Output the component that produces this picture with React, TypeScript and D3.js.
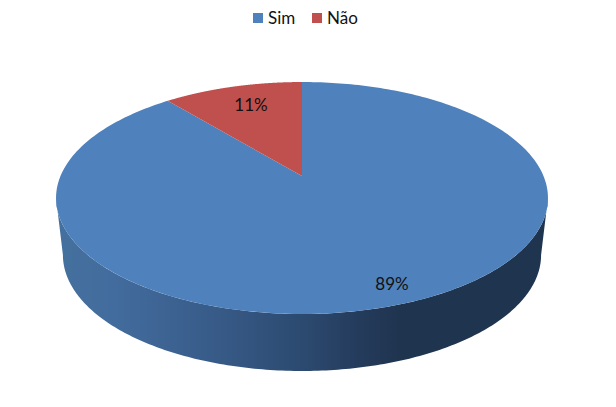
import React from "react";
import * as d3 from "d3";

const categories = ["Sim", "Não"];
const values = [89, 11];
const labels = ["89%", "11%"];
const colors = ["#4f81bd", "#c0504d"];

const W = 616, H = 407;
const cx = 302, apexY = 176;
const k = 0.1897, a = 241.5, b = 111.8;
const depth = 57;
const bottomScale = 0.972;

// circle angle (clockwise from top) -> perspective-projected point
function project(t: number, sx = 1, dy = 0): [number, number] {
  const u = Math.sin(t), v = Math.cos(t);
  const d = 1 + k * v;
  return [cx + (sx * a * u) / d, apexY + dy - (b * v) / d];
}

const line = d3.line<[number, number]>().curve(d3.curveLinear);
const sample = (t0: number, t1: number, n: number) =>
  d3.range(n + 1).map((i) => t0 + ((t1 - t0) * i) / n);

const tEdge = Math.acos(-k); // silhouette angle (widest point of the ellipse)

export default function App() {
  const arcs = d3.pie<number>().sort(null).startAngle(0).endAngle(2 * Math.PI)(values);
  const topFront = sample(tEdge, 2 * Math.PI - tEdge, 200).map((t) => project(t));
  const botFront = sample(2 * Math.PI - tEdge, tEdge, 200).map((t) => project(t, bottomScale, depth));
  const side = line([...topFront, ...botFront]) + "Z";

  return (
    <div style={{ position: "absolute", left: 0, top: 0 }}>
      <svg width={W} height={H} style={{ display: "block", background: "#fff" }}>
        <defs>
          <linearGradient id="sideGrad" gradientUnits="userSpaceOnUse" x1={56} x2={548} y1={0} y2={0}>
            <stop offset="0" stopColor="#44709e" />
            <stop offset="0.12" stopColor="#426c9d" />
            <stop offset="0.3" stopColor="#395d8b" />
            <stop offset="0.5" stopColor="#2c4a70" />
            <stop offset="0.62" stopColor="#243b5b" />
            <stop offset="0.7" stopColor="#1f344f" />
            <stop offset="1" stopColor="#1f344f" />
          </linearGradient>
        </defs>
        <path d={side} fill="url(#sideGrad)" />
        {arcs.map((s, i) => {
          const pts = sample(s.startAngle, s.endAngle, 300).map((t) => project(t));
          return (
            <path key={categories[i]} d={line([[cx, apexY], ...pts]) + "Z"} fill={colors[i]} />
          );
        })}
        <g fontFamily="Lato, 'Open Sans', sans-serif" fontSize={17} fill="#111">
          <text x={392} y={290} textAnchor="middle">{labels[0]}</text>
          <text x={251} y={111} textAnchor="middle">{labels[1]}</text>
          {categories.map((c, i) => {
            const lx = [253, 312][i];
            return (
              <g key={c}>
                <rect x={lx} y={13} width={10} height={10} fill={colors[i]} />
                <text x={lx + 15} y={24}>{c}</text>
              </g>
            );
          })}
        </g>
      </svg>
    </div>
  );
}
